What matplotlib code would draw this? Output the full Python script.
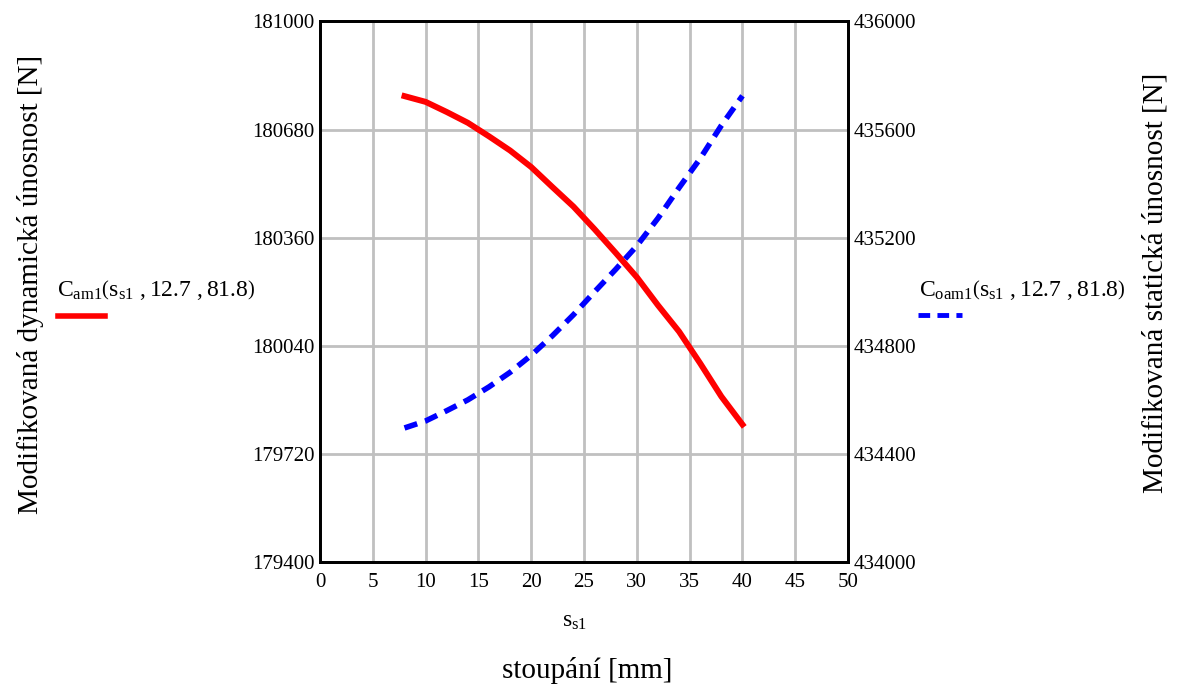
import numpy as np
import matplotlib
matplotlib.use("Agg")
from matplotlib import pyplot as plt
from matplotlib.lines import Line2D

plt.rcParams['font.family'] = ['Liberation Serif', 'DejaVu Serif']
plt.rcParams['mathtext.fontset'] = 'custom'
plt.rcParams['mathtext.rm'] = 'Liberation Serif'
plt.rcParams['mathtext.it'] = 'Liberation Serif'

# stoupani s_s1 [mm]
s_s1 = [8, 10, 12, 14, 16, 18, 20, 22, 24, 26, 28, 30, 32, 34, 36, 38, 40]

# dynamic load capacity C_am1 [N]
c_am1 = [180779, 180762, 180732, 180700, 180660, 180618, 180569, 180510,
         180452, 180385, 180315, 180243, 180160, 180082, 179988, 179890,
         179807]

# static load capacity C_oam1 [N]
c_oam1 = [434496, 434522, 434560, 434600, 434648, 434702, 434765, 434837,
          434915, 435000, 435083, 435170, 435272, 435385, 435493, 435615,
          435725]

x_ticks = np.arange(0, 51, 5)
left_ticks = [179400, 179720, 180040, 180360, 180680, 181000]
right_ticks = [434000, 434400, 434800, 435200, 435600, 436000]

fig = plt.figure()
fig.set_dpi(100)
fig.set_size_inches(11.8, 6.88)

ax = fig.add_axes([0.2712, 0.1831, 0.4475, 0.7857])
ax2 = ax.twinx()

ax.set_xlim(0, 50)
ax.set_ylim(left_ticks[0], left_ticks[-1])
ax2.set_ylim(right_ticks[0], right_ticks[-1])

ax.set_xticks(x_ticks)
ax.set_yticks(left_ticks)
ax2.set_yticks(right_ticks)
ax.grid(True, color='#c0c0c0', linewidth=2)
ax.set_axisbelow(True)

for a in (ax, ax2):
    a.tick_params(length=0, labelsize=15, pad=4)
    for sp in a.spines.values():
        sp.set_linewidth(2)
        sp.set_color('black')
ax.tick_params(axis='x', pad=8)

red_line, = ax.plot(s_s1, c_am1, color='red', linewidth=4.3,
                    solid_joinstyle='miter')
blue_line, = ax2.plot(s_s1, c_oam1, color='blue', linewidth=4,
                      linestyle=(0, (2.4, 1.5)))

# axis titles
fig.text(0.026, 0.586, 'Modifikovaná dynamická únosnost [N]', rotation=90,
         ha='center', va='center', fontsize=21)
fig.text(0.979, 0.589, 'Modifikovaná statická únosnost [N]', rotation=90,
         ha='center', va='center', fontsize=21)
fig.text(0.498, 0.026, 'stoupání [mm]', ha='center', va='center', fontsize=21)
fig.text(0.487, 0.096, r'$\mathrm{s_{s1}}$', ha='center', va='center',
         fontsize=17)

# legend-like labels for the two curves
fig.text(0.048, 0.578, r'$\mathrm{C_{am1}}\left(\mathrm{s_{s1}}\ ,12.7\ ,81.8\right)$',
         ha='left', va='center', fontsize=17)
fig.add_artist(Line2D([0.049, 0.089], [0.541, 0.541], color='red',
                      linewidth=4, transform=fig.transFigure))
fig.text(0.779, 0.578, r'$\mathrm{C_{oam1}}\left(\mathrm{s_{s1}}\ ,12.7\ ,81.8\right)$',
         ha='left', va='center', fontsize=17)
fig.add_artist(Line2D([0.778, 0.815], [0.542, 0.542], color='blue',
                      linewidth=3.5, linestyle=(0, (2.4, 1.5)),
                      transform=fig.transFigure))

fig.savefig('out.png', dpi=100)
